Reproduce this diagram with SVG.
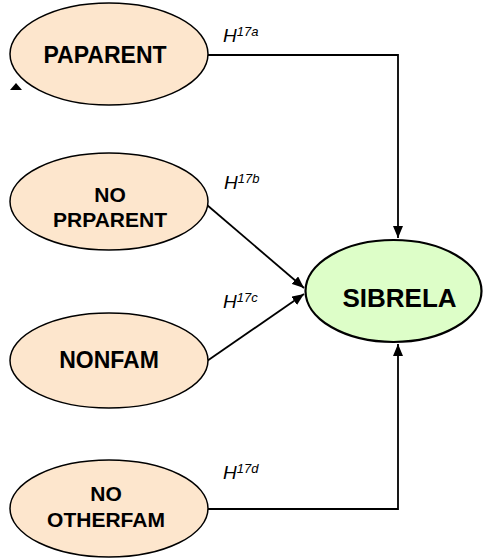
<svg xmlns="http://www.w3.org/2000/svg" width="483" height="558" viewBox="0 0 483 558">
  <defs>
    <marker id="arrow" viewBox="0 0 12 10" refX="12" refY="5" markerWidth="12" markerHeight="10" markerUnits="userSpaceOnUse" orient="auto">
      <path d="M0,0 L12,5 L0,10 Z" fill="#000"/>
    </marker>
    <style>
      .src { fill: #FDE6CD; stroke: #000; stroke-width: 1.5; }
      .dst { fill: #DDFEC8; stroke: #000; stroke-width: 2.2; }
      .lbl { font-family: "Liberation Sans", Arial, sans-serif; font-weight: bold; fill: #000; text-anchor: middle; }
      .hyp { font-family: "Liberation Sans", Arial, sans-serif; font-style: italic; fill: #000; font-size: 19px; }
      .sup { font-size: 13px; }
      .edge { fill: none; stroke: #000; stroke-width: 1.8; marker-end: url(#arrow); }
    </style>
  </defs>
  <rect width="483" height="558" fill="#fff"/>

  <g id="connectors">
    <path class="edge" d="M208,55 H398 V238"/>
    <path class="edge" d="M207,205 L304,288"/>
    <path class="edge" d="M207,361 L304,294"/>
    <path class="edge" d="M208,509 H398 V344"/>
  </g>

  <g id="paparent">
    <ellipse class="src" cx="109" cy="54" rx="99" ry="51"/>
    <text class="lbl" x="105" y="63" font-size="23">PAPARENT</text>
  </g>

  <g id="noprparent">
    <ellipse class="src" cx="109" cy="201.5" rx="99" ry="48.5"/>
    <text class="lbl" x="110" y="202" font-size="21">NO</text>
    <text class="lbl" x="110" y="227" font-size="21">PRPARENT</text>
  </g>

  <g id="nonfam">
    <ellipse class="src" cx="109" cy="360.5" rx="99" ry="47.5"/>
    <text class="lbl" x="109" y="368" font-size="23">NONFAM</text>
  </g>

  <g id="nootherfam">
    <ellipse class="src" cx="109" cy="508.5" rx="99" ry="48.5"/>
    <text class="lbl" x="106" y="501" font-size="21">NO</text>
    <text class="lbl" x="106" y="527" font-size="21">OTHERFAM</text>
  </g>

  <g id="sibrela">
    <ellipse class="dst" cx="393.5" cy="291" rx="88" ry="51"/>
    <text class="lbl" x="399.5" y="307" font-size="26">SIBRELA</text>
  </g>

  <polygon points="10,90 22,90 16,83" fill="#000"/>

  <g id="labels">
    <text class="hyp" x="223" y="42">H<tspan class="sup" dy="-6">17a</tspan></text>
    <text class="hyp" x="224" y="189">H<tspan class="sup" dy="-6">17b</tspan></text>
    <text class="hyp" x="223" y="308">H<tspan class="sup" dy="-6">17c</tspan></text>
    <text class="hyp" x="223" y="479">H<tspan class="sup" dy="-6">17d</tspan></text>
  </g>
</svg>
